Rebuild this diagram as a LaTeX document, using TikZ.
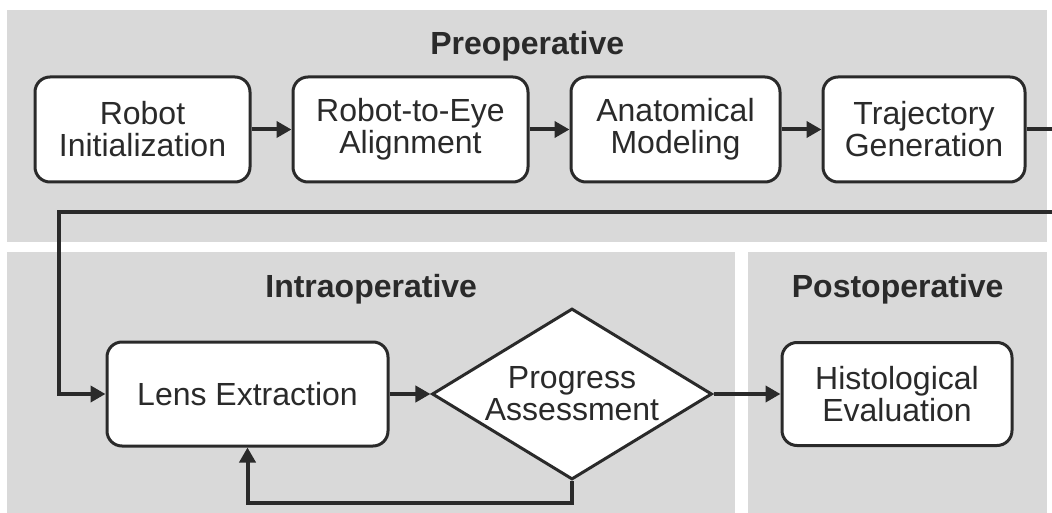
\documentclass[tikz,border=0pt]{standalone}
\usepackage{fontspec}
\setmainfont{Liberation Sans}
\usetikzlibrary{positioning,shapes.geometric,arrows.meta}

\definecolor{panelgray}{HTML}{D9D9D9}
\definecolor{ink}{HTML}{2A2A2A}

\tikzset{
  panel/.style={fill=panelgray, draw=none, anchor=south west, inner sep=0pt},
  phase/.style={font=\fontsize{32}{32}\selectfont\bfseries, text=ink, anchor=base},
  stepbox/.style={draw=ink, line width=3pt, fill=white, rounded corners=15pt,
    minimum height=105pt, inner sep=0pt, align=center, text=ink,
    font=\fontsize{32}{32}\selectfont},
  decision/.style={diamond, aspect=1.64, draw=ink, line width=3pt, fill=white,
    minimum width=280pt, minimum height=171pt, inner sep=0pt, align=center,
    text=ink, font=\fontsize{32}{32}\selectfont},
  flow/.style={draw=ink, line width=4pt, -{Triangle[length=15pt,width=16pt]}},
}

\begin{document}
\begin{tikzpicture}[x=1pt, y=1pt]
    \clip (0,0) rectangle (1052,512);
    \fill[white] (0,0) rectangle (1052,512);

    % phase panels
    \node[panel, minimum width=1040pt, minimum height=232pt] (pre) at (7,270) {};
    \node[panel, minimum width=728pt, minimum height=262pt] (intra) at (7,-2) {};
    \node[panel, minimum width=299pt, minimum height=262pt] (post) at (748,-2) {};
    \node[phase] at ([yshift=-45pt]pre.north) {Preoperative};
    \node[phase] at ([yshift=-46pt]intra.north) {Intraoperative};
    \node[phase] at ([yshift=-46pt]post.north) {Postoperative};

    % preoperative steps
    \node[stepbox, minimum width=215pt] (init) at (142.5,382.5) {Robot\\Initialization};
    \node[stepbox, minimum width=235pt, right=40pt of init] (eyealign) {Robot-to-Eye\\Alignment};
    \node[stepbox, minimum width=209pt, right=40pt of eyealign] (model) {Anatomical\\Modeling};
    \node[stepbox, minimum width=202pt, right=40pt of model] (traj) {Trajectory\\Generation};

    % intra- and postoperative steps
    \node[stepbox, minimum width=281pt, minimum height=104pt] (lens) at (247.5,118) {Lens Extraction};
    \node[decision] (progress) at (572,118) {Progress\\Assessment};
    \node[stepbox, minimum width=230pt, minimum height=103pt] (histo) at (897,118) {Histological\\Evaluation};

    \coordinate (wrapR) at (1062,300);
    \coordinate (wrapL) at (59,300);

    \draw[flow] (init) -- (eyealign);
    \draw[flow] (eyealign) -- (model);
    \draw[flow] (model) -- (traj);
    \draw[flow, rounded corners=0pt] (traj.east) -| (wrapR) -- (wrapL) |- (lens.west);
    \draw[flow] (lens) -- (progress);
    \draw[flow] (progress.south) -- ++(0,-22) -| (lens.south);
    \draw[flow] (progress) -- (histo);
\end{tikzpicture}
\end{document}
